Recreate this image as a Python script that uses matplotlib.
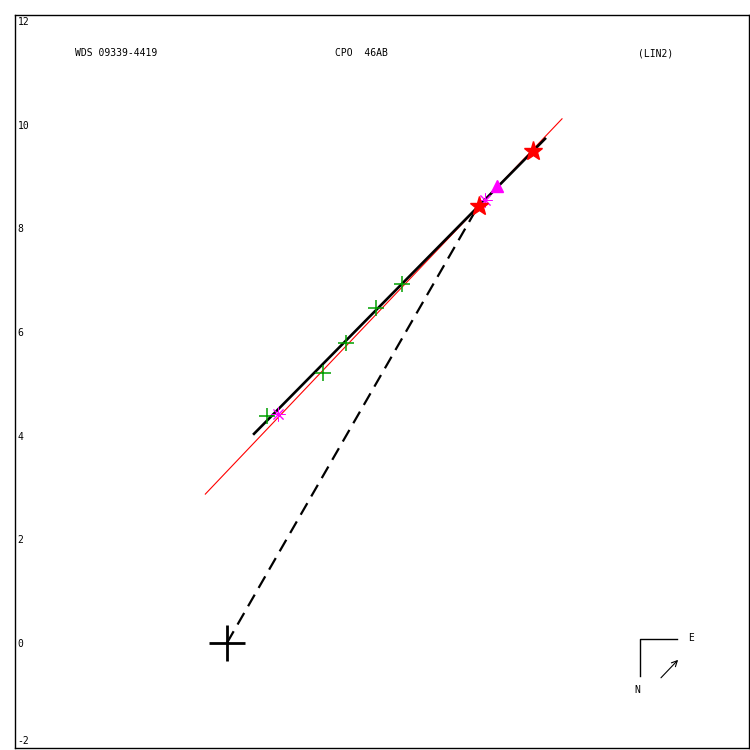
import matplotlib
matplotlib.use('Agg')
import matplotlib.pyplot as plt

# Observaciones (verde), medidas ponderadas (magenta), efemérides (rojo)
obs_x = [0.766, 1.859, 2.297, 2.876, 3.384]
obs_y = [4.388, 5.218, 5.786, 6.473, 6.931]
ast_x = [0.990, 4.981]
ast_y = [4.421, 8.552]
tri_x = [5.207]
tri_y = [8.828]
star_x = [4.865, 5.913]
star_y = [8.436, 9.504]
# Ajuste lineal (LIN2)
fit_x = [-0.419, 6.467]
fit_y = [2.871, 10.116]
mov_x = [0.521, 6.139]
mov_y = [4.035, 9.730]
# Primaria a punto mas cercano
dash_x = [0.0, 4.807]
dash_y = [0.0, 8.359]
yticks = [-2, 0, 2, 4, 6, 8, 10, 12]

fig = plt.figure(figsize=(7.5, 7.5), dpi=100)
ax = fig.add_axes([0.02, 0.0027, 0.9787, 0.9773])
mono = 'DejaVu Sans Mono'

ax.plot(fit_x, fit_y, color='red', lw=0.8, zorder=2)
ax.plot(mov_x, mov_y, color='black', lw=1.9, zorder=3)
ax.plot(dash_x, dash_y, color='black', lw=1.6, dashes=(6, 3.5), zorder=3)
ax.plot(obs_x, obs_y, ls='none', marker='+', ms=11, mew=1.1, color='#00a000', zorder=4)
ax.plot(ast_x, ast_y, ls='none', marker=(8, 2, 0), ms=10, mew=0.7, color='magenta', zorder=5)
ax.plot(tri_x, tri_y, ls='none', marker='^', ms=9, color='magenta', zorder=5)
ax.plot(star_x, star_y, ls='none', marker='*', ms=14, color='red', zorder=6)
ax.plot([0], [0], ls='none', marker='+', ms=26, mew=2, color='black', zorder=6)

# Brujula
ax.plot([8.687, 7.973, 7.973], [0.077, 0.077, -0.637], color='black', lw=1)
ax.annotate('', xy=(8.745, -0.29), xytext=(8.34, -0.714),
            arrowprops=dict(arrowstyle='->', color='black', lw=0.8))
ax.text(8.90, 0.097, 'E', fontsize=7, family=mono, ha='left', va='center')
ax.text(7.915, -0.907, 'N', fontsize=7, family=mono, ha='center', va='center')

# Titulos
ax.text(-2.934, 11.38, 'WDS 09339-4419', fontsize=7, family=mono, va='center')
ax.text(2.085, 11.38, 'CPO  46AB', fontsize=7, family=mono, va='center')
ax.text(7.934, 11.38, '(LIN2)', fontsize=7, family=mono, va='center')

ax.set_xlim(-4.093, 10.077)
ax.set_ylim(-2.03, 12.12)
ax.set_xticks([])
ax.set_yticks(yticks)
ax.set_yticklabels([str(t) for t in yticks], family=mono, fontsize=7)
ax.tick_params(axis='y', length=0, pad=-2)
for lab in ax.get_yticklabels():
    lab.set_ha('left')
    if lab.get_text() == '-2':
        lab.set_va('bottom')
for s in ax.spines.values():
    s.set_linewidth(1)

fig.savefig('out.png', dpi=100)
